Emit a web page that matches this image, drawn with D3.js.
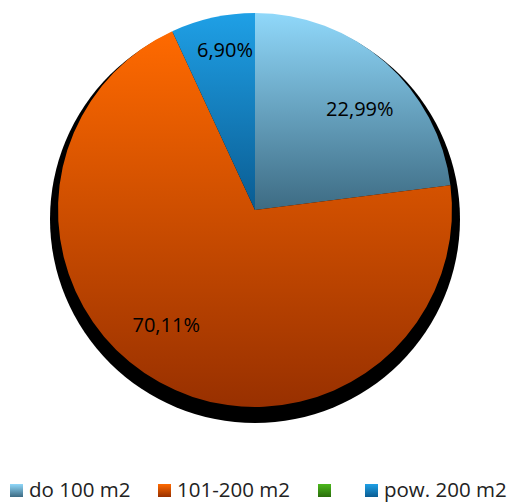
<!DOCTYPE html>
<html>
<head>
<meta charset="utf-8">
<script src="https://cdn.jsdelivr.net/npm/d3@7"></script>
<style>
  body { margin: 0; background: #fff; }
  svg { display: block; font-family: "Open Sans", "DejaVu Sans", sans-serif; }
</style>
</head>
<body>
<div id="chart"></div>
<script>
const categories = ["do 100 m2", "101-200 m2", "", "pow. 200 m2"];
const values = [22.99, 70.11, 0, 6.9];
const labels = ["22,99%", "70,11%", "", "6,90%"];
// gradient stops, top -> bottom
const colors = [
  ["#90d8fa", "#3d6b83"],
  ["#ff6a00", "#983000"],
  ["#4cb81c", "#2a6e0c"],
  ["#1fa0e6", "#0a5c92"],
];

const W = 510, H = 503;
const cx = 255, cy = 210, r = 197;
// label placement (best fit): radius and angle shift in degrees
const labelR = [146, 145, 150, 163];
const labelShift = [4.5, 8.8, 0, 1.8];

const svg = d3.select("#chart").append("svg")
  .attr("width", W)
  .attr("height", H);

const defs = svg.append("defs");
colors.forEach((c, i) => {
  const g = defs.append("linearGradient")
    .attr("id", "grad" + i)
    .attr("x1", 0).attr("y1", 0).attr("x2", 0).attr("y2", 1);
  g.append("stop").attr("offset", "0%").attr("stop-color", c[0]);
  g.append("stop").attr("offset", "100%").attr("stop-color", c[1]);
});

// shadow
svg.append("ellipse")
  .attr("cx", cx)
  .attr("cy", cy + 9)
  .attr("rx", r + 8)
  .attr("ry", r + 7)
  .attr("fill", "#000");

const pie = d3.pie().sort(null).value(d => d)(values);
const arc = d3.arc().innerRadius(0).outerRadius(r);

const g = svg.append("g").attr("transform", `translate(${cx}, ${cy})`);

g.selectAll("path")
  .data(pie)
  .join("path")
  .attr("d", arc)
  .attr("fill", (d, i) => `url(#grad${i})`);

function labelPos(d, i) {
  const a = (d.startAngle + d.endAngle) / 2 + labelShift[i] * Math.PI / 180;
  return [Math.sin(a) * labelR[i], -Math.cos(a) * labelR[i]];
}

g.selectAll("text")
  .data(pie)
  .join("text")
  .attr("x", (d, i) => labelPos(d, i)[0])
  .attr("y", (d, i) => labelPos(d, i)[1])
  .attr("text-anchor", "middle")
  .attr("dominant-baseline", "central")
  .style("font-size", "20px")
  .style("fill", "#000")
  .text((d, i) => labels[i]);

// legend
const legendX = [10, 158, 318, 365];
const legend = svg.append("g");
categories.forEach((c, i) => {
  legend.append("rect")
    .attr("x", legendX[i])
    .attr("y", 484)
    .attr("width", 13)
    .attr("height", 13)
    .attr("fill", `url(#grad${i})`);
  legend.append("text")
    .attr("x", legendX[i] + 19)
    .attr("y", 497)
    .style("font-size", "20.5px")
    .style("fill", "#222")
    .text(c);
});
</script>
</body>
</html>
